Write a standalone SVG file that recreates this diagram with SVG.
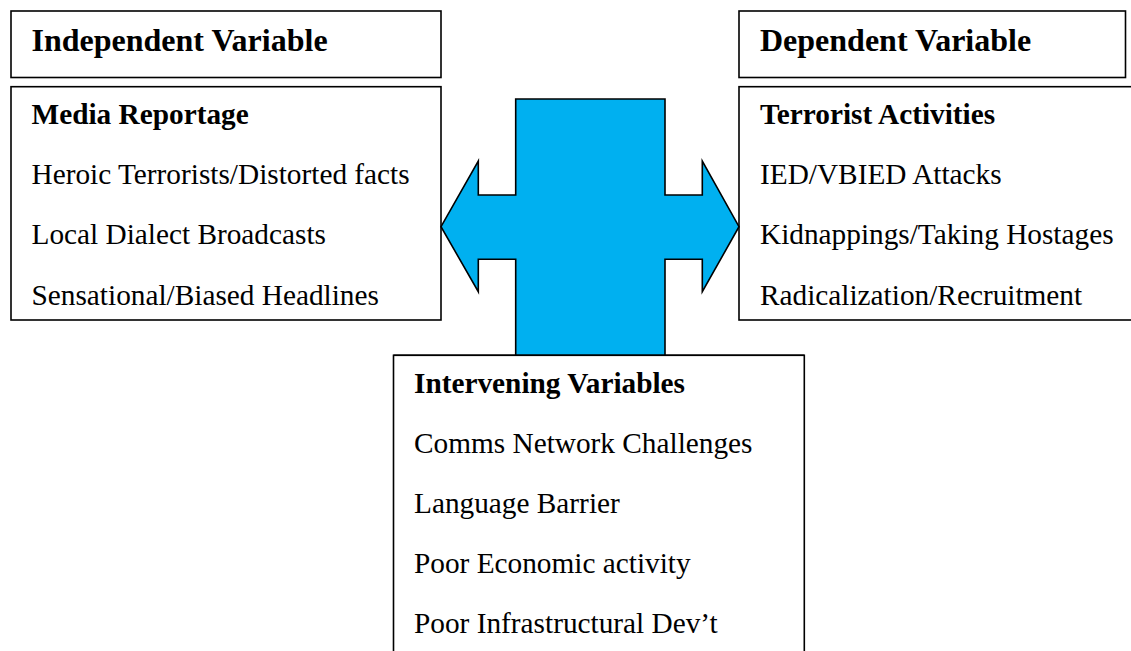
<svg xmlns="http://www.w3.org/2000/svg" width="1131" height="651" viewBox="0 0 1131 651">
<style>
.box{fill:#fff;stroke:#000;stroke-width:1.6}
.t{font-family:"Liberation Serif","Times New Roman",serif;font-size:29.3px;fill:#000}
.b{font-weight:bold}
.h{font-family:"Liberation Serif","Times New Roman",serif;font-size:32px;font-weight:bold;fill:#000}
.arrow{fill:#00B0F0;stroke:#000;stroke-width:1.6;stroke-linejoin:miter}
</style>
<rect width="1131" height="651" fill="#fff"/>
<g id="independent-header">
<rect class="box" x="11" y="11" width="430" height="66.5"/>
<text class="h" x="31.5" y="51">Independent Variable</text>
</g>
<g id="media-reportage">
<rect class="box" x="11" y="86.7" width="430" height="233.3"/>
<text class="t b" x="31.5" y="123.5">Media Reportage</text>
<text class="t" x="31.5" y="183.5">Heroic Terrorists/Distorted facts</text>
<text class="t" x="31.5" y="244">Local Dialect Broadcasts</text>
<text class="t" x="31.5" y="304.5">Sensational/Biased Headlines</text>
</g>
<g id="dependent-header">
<rect class="box" x="739" y="11" width="386.5" height="66.5"/>
<text class="h" x="760" y="51">Dependent Variable</text>
</g>
<g id="terrorist-activities">
<rect class="box" x="739" y="86.7" width="410" height="233.3"/>
<text class="t b" x="760" y="123.5">Terrorist Activities</text>
<text class="t" x="760" y="183.5">IED/VBIED Attacks</text>
<text class="t" x="760" y="244">Kidnappings/Taking Hostages</text>
<text class="t" x="760" y="304.5">Radicalization/Recruitment</text>
</g>
<g id="intervening-variables">
<rect class="box" x="393.5" y="355.3" width="410.8" height="320"/>
<text class="t b" x="414" y="393.3">Intervening Variables</text>
<text class="t" x="414" y="453.3">Comms Network Challenges</text>
<text class="t" x="414" y="513.3">Language Barrier</text>
<text class="t" x="414" y="573.3">Poor Economic activity</text>
<text class="t" x="414" y="633.3">Poor Infrastructural Dev’t</text>
</g>
<g id="connectors">
<polygon class="arrow" points="515.7,99 665,99 665,195 702.3,195 702.3,161 739,226.7 702.3,291.7 702.3,259.3 665,259.3 665,355.3 515.7,355.3 515.7,259.3 478.3,259.3 478.3,291.7 441,226.7 478.3,161 478.3,195 515.7,195"/>
<line x1="393.5" y1="355.3" x2="804.3" y2="355.3" stroke="#000" stroke-width="1.6"/>
</g>
</svg>
